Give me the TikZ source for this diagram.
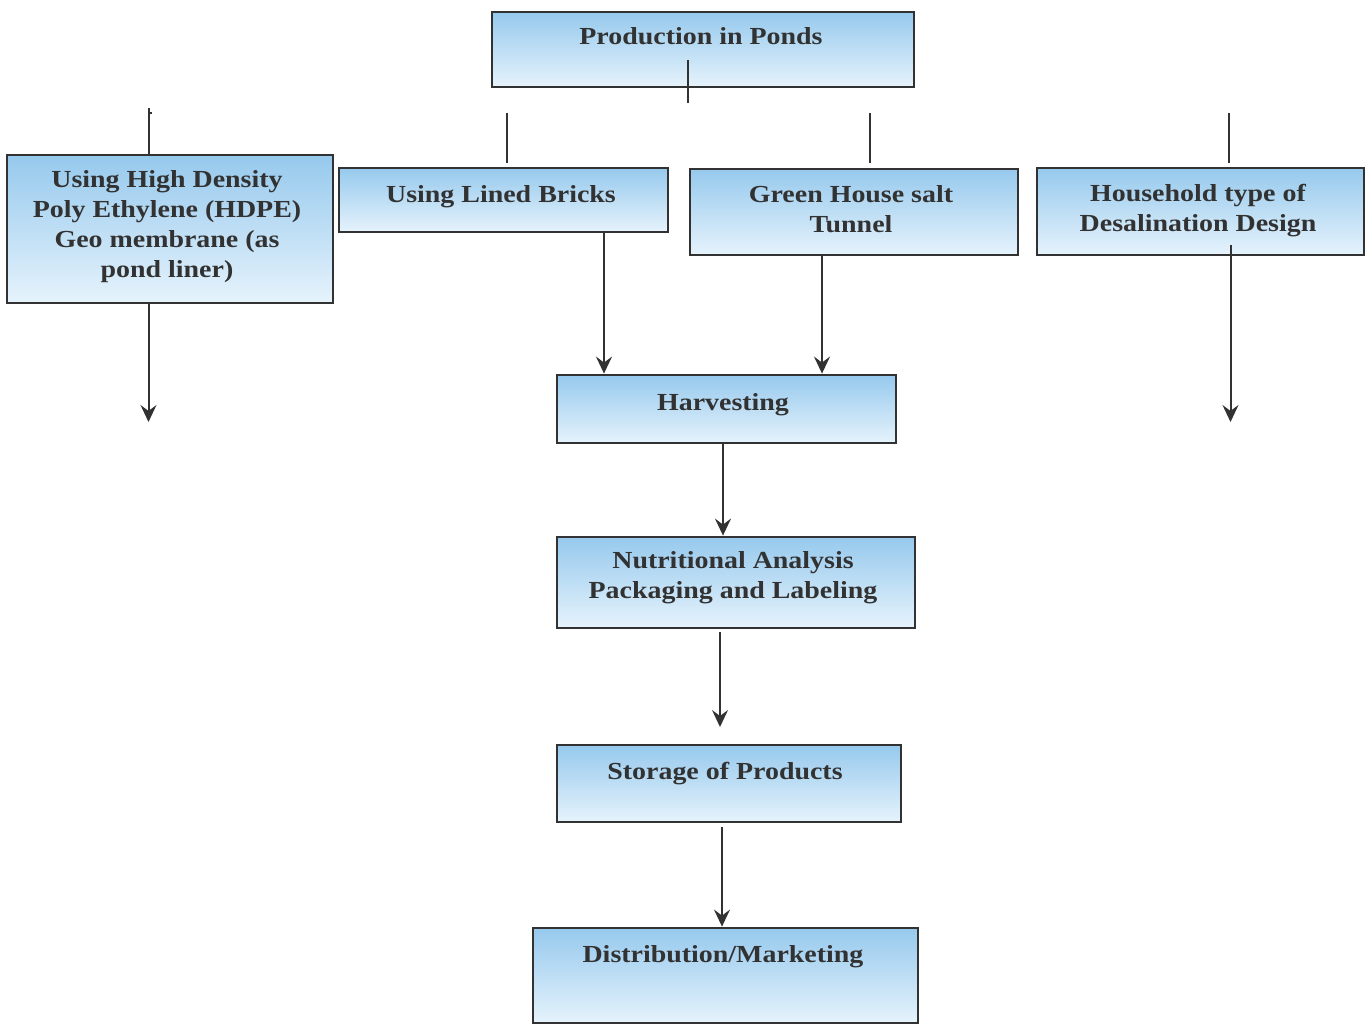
\documentclass[tikz,border=0pt]{standalone}
\usepackage{fontspec}
\setmainfont{Liberation Serif}[FakeStretch=1.14]
\usetikzlibrary{arrows.meta}
\definecolor{boxtop}{RGB}{150,201,237}
\definecolor{boxmid}{RGB}{184,220,245}
\definecolor{boxbot}{RGB}{230,243,252}
\definecolor{ink}{RGB}{50,50,50}
\tikzset{
  box/.style={draw=ink, line width=2.8pt, top color=boxtop, middle color=boxmid, bottom color=boxbot, inner sep=0pt},
  txt/.style={anchor=base, align=center, text=ink, inner sep=0pt,
    font=\bfseries\fontsize{24.5}{30}\selectfont},
  ln/.style={draw=ink, line width=2pt},
  arr/.style={ln, -{Stealth[length=17pt, width=16pt, inset=6pt]}},
}
\begin{document}
\begin{tikzpicture}[x=1pt, y=-1pt]
\useasboundingbox (0,0) rectangle (1366,1025);
% boxes
\node[box, minimum width=422pt, minimum height=75pt] (prod) at (703,49.5) {};
\node[box, minimum width=326pt, minimum height=148pt] (hdpe) at (170,229) {};
\node[box, minimum width=329pt, minimum height=64pt] (bricks) at (503.5,200) {};
\node[box, minimum width=328pt, minimum height=86pt] (green) at (854,212) {};
\node[box, minimum width=327pt, minimum height=87pt] (house) at (1200.5,211.5) {};
\node[box, minimum width=339pt, minimum height=68pt] (harv) at (726.5,409) {};
\node[box, minimum width=358pt, minimum height=91pt] (nutri) at (736,582.5) {};
\node[box, minimum width=344pt, minimum height=77pt] (stor) at (729,783.5) {};
\node[box, minimum width=385pt, minimum height=95pt] (dist) at (725.5,975.5) {};
% texts (anchor = baseline of the last line)
\node[txt] (prodt) at (701,45) {Production in Ponds};
\node[txt] (hdpet) at (167,277) {Using High Density\\Poly Ethylene (HDPE)\\Geo membrane (as\\pond liner)};
\node[txt] (brickst) at (501,202) {Using Lined Bricks};
\node[txt] (greent) at (851,232) {Green House salt\\Tunnel};
\node[txt] (houset) at (1198,231) {Household type of\\Desalination Design};
\node[txt] (harvt) at (723,410) {Harvesting};
\node[txt] (nutrit) at (733,598) {Nutritional Analysis\\Packaging and Labeling};
\node[txt] (stort) at (725,779) {Storage of Products};
\node[txt] (distt) at (723,962) {Distribution/Marketing};
% free-end coordinates
\coordinate (pa) at (688,60);
\coordinate (pb) at (688,103);
\coordinate (s1a) at (507,113);
\coordinate (s1b) at (507,163);
\coordinate (s2a) at (870,113);
\coordinate (s2b) at (870,163);
\coordinate (s3a) at (1229,113);
\coordinate (s3b) at (1229,163);
\coordinate (hda) at (148.5,108);
\coordinate (hdtick) at (152,113);
\coordinate (hdtickb) at (148.5,113);
\coordinate (hdend) at (148.5,422);
\coordinate (hsa) at (1230.5,245);
\coordinate (hsend) at (1230.5,422);
\coordinate (nsa) at (720,632);
\coordinate (nsend) at (720,727);
\coordinate (ssa) at (722,827);
% connectors
\draw[ln] (pa) -- (pb);
\draw[ln] (s1a) -- (s1b);
\draw[ln] (s2a) -- (s2b);
\draw[ln] (s3a) -- (s3b);
\draw[ln] (hda) -- (hda |- hdpe.north);
\draw[ln, line width=1.5pt] (hdtickb) -- (hdtick);
\draw[arr] (hda |- hdpe.south) -- (hdend);
\draw[arr] (bricks.south -| 604,0) -- (harv.north -| 604,0);
\draw[arr] (green.south -| 822,0) -- (harv.north -| 822,0);
\draw[arr] (hsa) -- (hsend);
\draw[arr] (harv.south -| 723,0) -- (nutri.north -| 723,0);
\draw[arr] (nsa) -- (nsend);
\draw[arr] (ssa) -- (dist.north -| ssa);
\end{tikzpicture}
\end{document}
